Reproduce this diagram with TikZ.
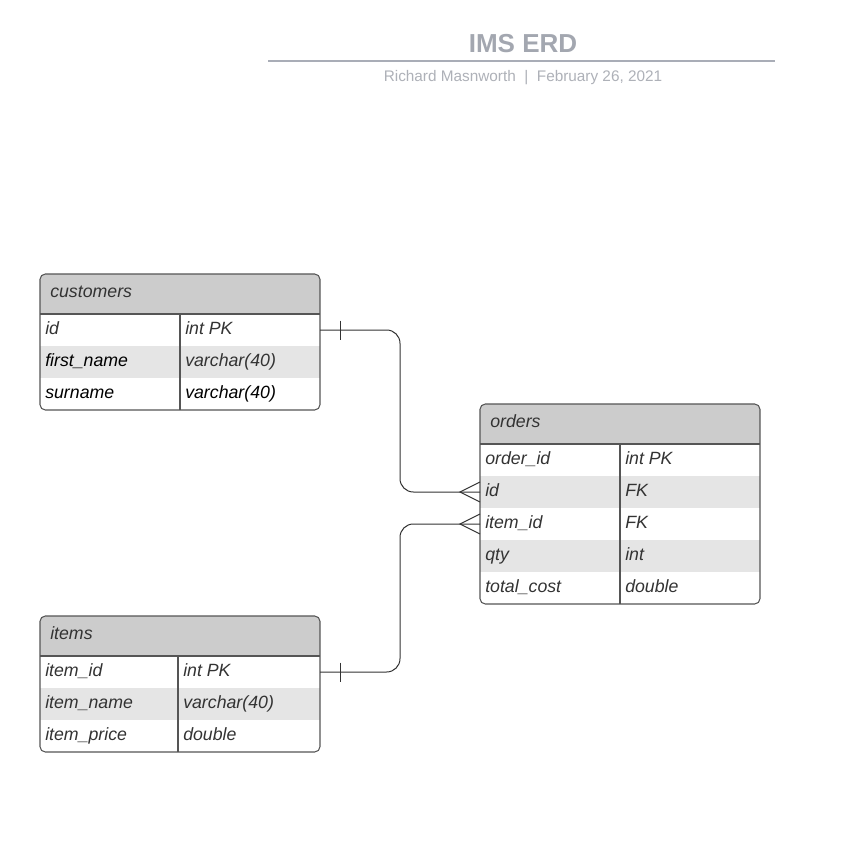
\documentclass[tikz,border=0pt]{standalone}
\usepackage{fontspec}
\setmainfont{Liberation Sans}
\usetikzlibrary{calc}
\definecolor{hdrgray}{HTML}{CCCCCC}
\definecolor{rowgray}{HTML}{E5E5E5}
\definecolor{framec}{HTML}{555555}
\definecolor{txtgray}{HTML}{333333}
\definecolor{titlec}{HTML}{A3A7B0}
\definecolor{subc}{HTML}{AEB1B8}
\definecolor{rulec}{HTML}{A9ADB7}
\tikzset{
  hdr/.style={fill=hdrgray, draw=none, minimum width=210pt, minimum height=30pt, anchor=north west, inner sep=0pt, outer sep=0pt},
  rowa/.style={fill=white, draw=none, minimum width=210pt, minimum height=24pt, anchor=north west, inner sep=0pt, outer sep=0pt},
  rowb/.style={rowa, fill=rowgray},
  txt/.style={anchor=base west, font=\itshape\fontsize{13.3}{15}\selectfont, text=txtgray, inner sep=0pt},
  txtk/.style={txt, text=black},
  frame/.style={draw=framec, line width=0.8pt},
  conn/.style={draw=txtgray, line width=0.75pt},
}
\begin{document}
\begin{tikzpicture}[x=0.75pt, y=-0.75pt]
\useasboundingbox[fill=white] (0,0) rectangle (857,845);

% title
\node[anchor=base, font=\bfseries\fontsize{19.5}{22}\selectfont, text=titlec, inner sep=0pt] (title) at (523,52.5) {IMS ERD};
\coordinate (rl) at (268,61);
\coordinate (rr) at (775,61);
\draw[rulec, line width=1.5pt] (rl) -- (rr);
\node[anchor=base, font=\fontsize{11.5}{14}\selectfont, text=subc, inner sep=0pt] (sub) at (523,82) {Richard Masnworth~~|~~February 26, 2021};

% ---------- customers ----------
\begin{scope}
\clip[rounded corners=4] (40,274) rectangle (320,410);
\node[hdr] (cust) at (40,274) {};
\node[rowa] (cust-id) at (40,314) {};
\node[rowb] (cust-fn) at (40,346) {};
\node[rowa] (cust-sn) at (40,378) {};
\end{scope}
\draw[frame, rounded corners=4] (40,274) rectangle (320,410);
\draw[frame] (cust-id.north west) -- (cust-id.north east);
\draw[frame] (180,314) -- (180,410);
\node[txt] (cust-t) at (50,297) {customers};
\node[txt] (cust-id-f) at (45,334.5) {id};
\node[txt] (cust-id-t) at (185,334.5) {int PK};
\node[txtk] (cust-fn-f) at (45,366.5) {first\_name};
\node[txt] (cust-fn-t) at (185,366.5) {varchar(40)};
\node[txtk] (cust-sn-f) at (45,398.5) {surname};
\node[txtk] (cust-sn-t) at (185,398.5) {varchar(40)};

% ---------- orders ----------
\begin{scope}
\clip[rounded corners=4] (480,404) rectangle (760,604);
\node[hdr] (ord) at (480,404) {};
\node[rowa] (ord-oid) at (480,444) {};
\node[rowb] (ord-id) at (480,476) {};
\node[rowa] (ord-iid) at (480,508) {};
\node[rowb] (ord-qty) at (480,540) {};
\node[rowa] (ord-tc) at (480,572) {};
\end{scope}
\draw[frame, rounded corners=4] (480,404) rectangle (760,604);
\draw[frame] (ord-oid.north west) -- (ord-oid.north east);
\draw[frame] (620,444) -- (620,604);
\node[txt] (ord-t) at (490,427) {orders};
\node[txt] (ord-oid-f) at (485,464.5) {order\_id};
\node[txt] (ord-oid-t) at (625,464.5) {int PK};
\node[txt] (ord-id-f) at (485,496.5) {id};
\node[txt] (ord-id-t) at (625,496.5) {FK};
\node[txt] (ord-iid-f) at (485,528.5) {item\_id};
\node[txt] (ord-iid-t) at (625,528.5) {FK};
\node[txt] (ord-qty-f) at (485,560.5) {qty};
\node[txt] (ord-qty-t) at (625,560.5) {int};
\node[txt] (ord-tc-f) at (485,592.5) {total\_cost};
\node[txt] (ord-tc-t) at (625,592.5) {double};

% ---------- items ----------
\begin{scope}
\clip[rounded corners=4] (40,616) rectangle (320,752);
\node[hdr] (itm) at (40,616) {};
\node[rowa] (itm-id) at (40,656) {};
\node[rowb] (itm-nm) at (40,688) {};
\node[rowa] (itm-pr) at (40,720) {};
\end{scope}
\draw[frame, rounded corners=4] (40,616) rectangle (320,752);
\draw[frame] (itm-id.north west) -- (itm-id.north east);
\draw[frame] (178,656) -- (178,752);
\node[txt] (itm-t) at (50,639) {items};
\node[txt] (itm-id-f) at (45,676.5) {item\_id};
\node[txt] (itm-id-t) at (183,676.5) {int PK};
\node[txt] (itm-nm-f) at (45,708.5) {item\_name};
\node[txt] (itm-nm-t) at (183,708.5) {varchar(40)};
\node[txt] (itm-pr-f) at (45,740.5) {item\_price};
\node[txt] (itm-pr-t) at (183,740.5) {double};

% ---------- connectors ----------
\coordinate (mid) at (400,0);
\draw[conn, rounded corners=10] (cust-id.east) -| (mid |- ord-id.west) -- (ord-id.west);
\draw[conn, rounded corners=10] (itm-id.east) -| (mid |- ord-iid.west) -- (ord-iid.west);
% one ticks
\draw[conn] ($(cust-id.east)+(20,-9.5)$) -- ($(cust-id.east)+(20,9.5)$);
\draw[conn] ($(itm-id.east)+(20,-9.5)$) -- ($(itm-id.east)+(20,9.5)$);
% crow's feet
\draw[conn] ($(ord-id.west)+(0,-10)$) -- ($(ord-id.west)+(-20,0)$) -- ($(ord-id.west)+(0,10)$);
\draw[conn] ($(ord-iid.west)+(0,-10)$) -- ($(ord-iid.west)+(-20,0)$) -- ($(ord-iid.west)+(0,10)$);
\end{tikzpicture}
\end{document}
